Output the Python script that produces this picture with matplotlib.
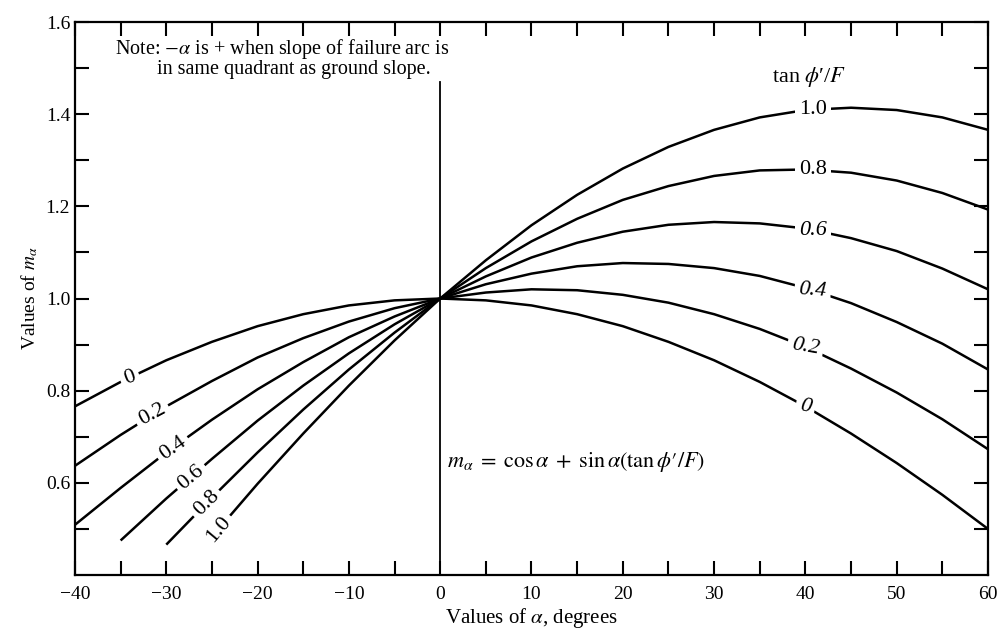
import matplotlib
matplotlib.use("Agg")
import matplotlib.pyplot as plt
import numpy as np

plt.rcParams['font.family'] = ['Liberation Serif', 'DejaVu Serif']
plt.rcParams['mathtext.fontset'] = 'stix'

# values, every 5 degrees
alpha_full = [-40, -35, -30, -25, -20, -15, -10, -5, 0, 5, 10, 15, 20, 25, 30, 35, 40, 45, 50, 55, 60]
m_00 = [0.766, 0.819, 0.866, 0.906, 0.940, 0.966, 0.985, 0.996, 1.000, 0.996, 0.985,
        0.966, 0.940, 0.906, 0.866, 0.819, 0.766, 0.707, 0.643, 0.574, 0.500]
m_02 = [0.637, 0.704, 0.766, 0.821, 0.872, 0.914, 0.950, 0.979, 1.000, 1.013, 1.020,
        1.018, 1.008, 0.991, 0.966, 0.934, 0.895, 0.848, 0.796, 0.738, 0.673]
m_04 = [0.509, 0.589, 0.666, 0.737, 0.803, 0.862, 0.916, 0.961, 1.000, 1.031, 1.054,
        1.070, 1.077, 1.075, 1.066, 1.049, 1.023, 0.990, 0.949, 0.902, 0.846]
alpha_06 = alpha_full[1:]
m_06 = [0.475, 0.566, 0.652, 0.735, 0.811, 0.881, 0.944, 1.000, 1.048, 1.089,
        1.121, 1.145, 1.160, 1.166, 1.163, 1.152, 1.131, 1.103, 1.065, 1.020]
alpha_08 = alpha_full[2:]
m_08 = [0.466, 0.568, 0.666, 0.759, 0.846, 0.926, 1.000, 1.066, 1.124,
        1.173, 1.214, 1.244, 1.266, 1.278, 1.280, 1.273, 1.256, 1.229, 1.193]
alpha_10 = alpha_full[3:]
m_10 = [0.483, 0.598, 0.707, 0.811, 0.909, 1.000, 1.083, 1.159,
        1.225, 1.282, 1.329, 1.366, 1.393, 1.409, 1.414, 1.409, 1.393, 1.366]

series = [("0", alpha_full, m_00), ("0.2", alpha_full, m_02), ("0.4", alpha_full, m_04),
          ("0.6", alpha_06, m_06), ("0.8", alpha_08, m_08), ("1.0", alpha_10, m_10)]

# label placement along each curve
left_x = [-34.0, -31.5, -29.3, -27.3, -25.6, -24.3]
left_rot = [20, 28, 35, 40, 45, 50]
right_x = [40.0, 40.0, 40.8, 40.8, 40.8, 40.8]
right_rot = [-12, -10, -4, 0, 0, 0]
right_italic = [True, True, True, True, False, False]

fig = plt.figure(figsize=(10.05, 6.38), dpi=100)
ax = fig.add_axes([0.0746, 0.0987, 0.9085, 0.8668])

for i, (lab, xs, ys) in enumerate(series):
    ax.plot(xs, ys, color='black', lw=1.8, solid_capstyle='butt', zorder=2)
    box = dict(facecolor='white', edgecolor='none', pad=3)
    yl = np.interp(left_x[i], xs, ys)
    ax.text(left_x[i], yl, lab, fontsize=16, rotation=left_rot[i], rotation_mode='anchor',
            ha='center', va='center', bbox=box, zorder=3)
    yr = np.interp(right_x[i], xs, ys)
    ax.text(right_x[i], yr, lab, fontsize=16, rotation=right_rot[i], rotation_mode='anchor',
            ha='center', va='center', bbox=box, zorder=3,
            style='italic' if right_italic[i] else 'normal')

ax.plot([0, 0], [0.4, 1.47], color='black', lw=1.3, zorder=1)

ax.set_xlim(-40, 60)
ax.set_ylim(0.4, 1.6)
ax.set_xticks(np.arange(-40, 61, 10))
ax.set_xticks(np.arange(-35, 60, 10), minor=True)
ax.set_yticks([0.6, 0.8, 1.0, 1.2, 1.4, 1.6])
ax.set_yticks([0.5, 0.7, 0.9, 1.1, 1.3, 1.5], minor=True)
ax.set_yticklabels(['0.6', '0.8', '1.0', '1.2', '1.4', '1.6'])
ax.tick_params(which='both', direction='in', length=10, width=1.5,
               top=True, right=True, labelsize=14)
ax.tick_params(axis='x', pad=8)
for sp in ax.spines.values():
    sp.set_linewidth(1.6)

ax.set_xlabel(r'Values of $\alpha$, degrees', fontsize=15, labelpad=2)
ax.set_ylabel(r'Values of $m_\alpha$', fontsize=14, labelpad=4)

ax.text(-35.6, 1.542, r'Note: $-\alpha$ is + when slope of failure arc is', fontsize=14.5,
        ha='left', va='center')
ax.text(-31.0, 1.496, 'in same quadrant as ground slope.', fontsize=14.5,
        ha='left', va='center')
ax.text(40.4, 1.48, r"tan $\phi$′/$F$", fontsize=16, ha='center', va='center')
ax.text(0.8, 0.645,
        r"$m_\alpha\;=\;\mathrm{cos}\,\alpha\;+\;\mathrm{sin}\,\alpha(\mathrm{tan}\,\phi\prime/F)$",
        fontsize=16, ha='left', va='center')

fig.savefig('out.png', dpi=100)
